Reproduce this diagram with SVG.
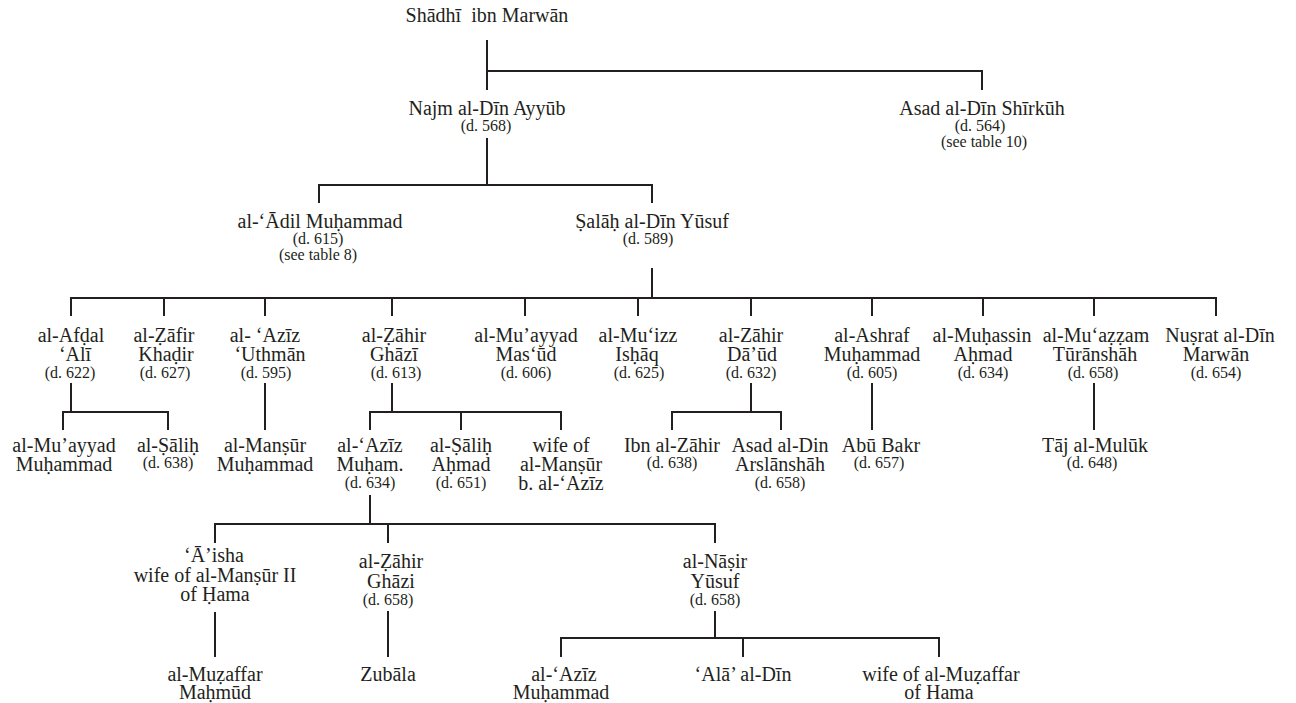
<svg xmlns="http://www.w3.org/2000/svg" width="1296" height="703" viewBox="0 0 1296 703">
<style>
text{font-family:"Liberation Serif","DejaVu Serif",serif;fill:#231f20;text-anchor:middle;font-size:20px}
text.d{font-size:16px}
#connectors path{fill:none;stroke:#231f20;stroke-width:2}
</style>
<rect width="1296" height="703" fill="#ffffff"/>
<g id="connectors">
<path d="M487,40 V90 M487,71 H982 V90"/>
<path d="M487,138 V185 M319,203 V185 H652 V203"/>
<path d="M652,268 V298 M71,316 V298 H1216 V316 M164,298 V316 M265,298 V316 M392,298 V316 M525,298 V316 M638,298 V316 M751,298 V316 M872,298 V316 M983,298 V316 M1094,298 V316"/>
<path d="M71,383 V412 M63,430 V412 H168 V430"/>
<path d="M265,383 V430"/>
<path d="M392,383 V412 M370,430 V412 H561 V430 M461,412 V430"/>
<path d="M751,383 V412 M672,430 V412 H781 V430"/>
<path d="M872,383 V430"/>
<path d="M1094,383 V430"/>
<path d="M370,495 V524 M215,543 V524 H715 V543 M388,524 V543"/>
<path d="M215,612 V657"/>
<path d="M388,611 V657"/>
<path d="M715,611 V638 M561,657 V638 H939 V657 M743,638 V657"/>
</g>
<g id="shadhi"><text x="487" y="22">Shādhī&#160; ibn Marwān</text></g>
<g id="najm"><text x="487" y="115">Najm al-Dīn Ayyūb</text><text class="d" x="486" y="131">(d. 568)</text></g>
<g id="shirkuh"><text x="982" y="115">Asad al-Dīn Shīrkūh</text><text class="d" x="980" y="131">(d. 564)</text><text class="d" x="984" y="147">(see table 10)</text></g>
<g id="adil"><text x="320" y="228">al-‘Ādil Muḥammad</text><text class="d" x="318" y="244">(d. 615)</text><text class="d" x="318" y="260">(see table 8)</text></g>
<g id="salah"><text x="652" y="228">Ṣalāḥ al-Dīn Yūsuf</text><text class="d" x="648" y="244">(d. 589)</text></g>
<g id="afdal"><text x="71" y="342">al-Afḍal</text><text x="75" y="361">‘Alī</text><text class="d" x="70" y="378">(d. 622)</text></g>
<g id="zafir"><text x="164" y="342">al-Ẓāfir</text><text x="166" y="361">Khaḍir</text><text class="d" x="165" y="378">(d. 627)</text></g>
<g id="aziz-uthman"><text x="265" y="342">al- ‘Azīz</text><text x="270" y="361">‘Uthmān</text><text class="d" x="266" y="378">(d. 595)</text></g>
<g id="zahir-ghazi"><text x="394" y="342">al-Ẓāhir</text><text x="394" y="361">Ghāzī</text><text class="d" x="396" y="378">(d. 613)</text></g>
<g id="muayyad-masud"><text x="526" y="342">al-Mu’ayyad</text><text x="526" y="361">Mas‘ūd</text><text class="d" x="526" y="378">(d. 606)</text></g>
<g id="muizz"><text x="638" y="342">al-Mu‘izz</text><text x="637" y="361">Isḥāq</text><text class="d" x="639" y="378">(d. 625)</text></g>
<g id="zahir-daud"><text x="751" y="342">al-Zāhir</text><text x="752" y="361">Dā’ūd</text><text class="d" x="751" y="378">(d. 632)</text></g>
<g id="ashraf"><text x="872" y="342">al-Ashraf</text><text x="872" y="361">Muḥammad</text><text class="d" x="872" y="378">(d. 605)</text></g>
<g id="muhassin"><text x="982" y="342">al-Muḥassin</text><text x="983" y="361">Aḥmad</text><text class="d" x="983" y="378">(d. 634)</text></g>
<g id="muazzam"><text x="1096" y="342">al-Mu‘aẓẓam</text><text x="1095" y="361">Tūrānshāh</text><text class="d" x="1093" y="378">(d. 658)</text></g>
<g id="nusrat"><text x="1220" y="342">Nuṣrat al-Dīn</text><text x="1216" y="361">Marwān</text><text class="d" x="1216" y="378">(d. 654)</text></g>
<g id="muayyad-muhammad"><text x="64" y="452">al-Mu’ayyad</text><text x="64" y="471">Muḥammad</text></g>
<g id="salih1"><text x="168" y="452">al-Ṣāliḥ</text><text class="d" x="168" y="468">(d. 638)</text></g>
<g id="mansur"><text x="265" y="452">al-Manṣūr</text><text x="265" y="471">Muḥammad</text></g>
<g id="aziz-muham"><text x="370" y="452">al-‘Azīz</text><text x="370" y="471">Muḥam.</text><text class="d" x="370" y="488">(d. 634)</text></g>
<g id="salih-ahmad"><text x="461" y="452">al-Ṣāliḥ</text><text x="461" y="471">Aḥmad</text><text class="d" x="461" y="488">(d. 651)</text></g>
<g id="wife-mansur"><text x="561" y="452">wife of</text><text x="561" y="471">al-Manṣūr</text><text x="561" y="490">b. al-‘Azīz</text></g>
<g id="ibn-zahir"><text x="672" y="452">Ibn al-Zāhir</text><text class="d" x="672" y="468">(d. 638)</text></g>
<g id="arslanshah"><text x="780" y="452">Asad al-Din</text><text x="780" y="471">Arslānshāh</text><text class="d" x="780" y="488">(d. 658)</text></g>
<g id="abu-bakr"><text x="881" y="452">Abū Bakr</text><text class="d" x="879" y="468">(d. 657)</text></g>
<g id="taj"><text x="1095" y="452">Tāj al-Mulūk</text><text class="d" x="1092" y="468">(d. 648)</text></g>
<g id="aisha"><text x="214" y="562">‘Ā’isha</text><text x="215" y="582">wife of al-Manṣūr II</text><text x="215" y="601">of Ḥama</text></g>
<g id="zahir-ghazi2"><text x="391" y="568">al-Ẓāhir</text><text x="391" y="588">Ghāzi</text><text class="d" x="388" y="605">(d. 658)</text></g>
<g id="nasir"><text x="715" y="568">al-Nāṣir</text><text x="715" y="588">Yūsuf</text><text class="d" x="715" y="605">(d. 658)</text></g>
<g id="muzaffar"><text x="215" y="681">al-Muẓaffar</text><text x="215" y="699">Maḥmūd</text></g>
<g id="zubala"><text x="388" y="681">Zubāla</text></g>
<g id="aziz-muhammad"><text x="564" y="681">al-‘Azīz</text><text x="561" y="699">Muḥammad</text></g>
<g id="ala"><text x="743" y="681">‘Alā’ al-Dīn</text></g>
<g id="wife-muzaffar"><text x="941" y="681">wife of al-Muẓaffar</text><text x="939" y="699">of Hama</text></g>
</svg>
